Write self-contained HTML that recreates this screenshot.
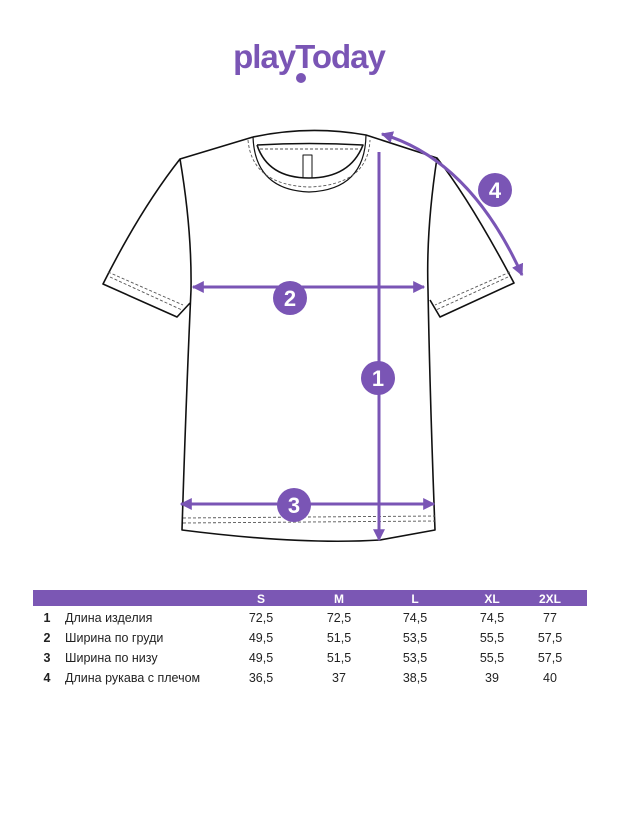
<!DOCTYPE html>
<html><head><meta charset="utf-8"><style>
body{margin:0;background:#fff;width:618px;height:824px;overflow:hidden;font-family:"Liberation Sans",sans-serif}
</style></head><body>
<svg width="618" height="824" viewBox="0 0 618 824" xmlns="http://www.w3.org/2000/svg" style="position:absolute;left:0;top:0">
<defs>
<marker id="ah" viewBox="0 0 10 10" refX="9" refY="5" markerWidth="4" markerHeight="4" orient="auto-start-reverse"><path d="M0,0 L10,5 L0,10 z" fill="#7a55b5"/></marker>
</defs>
<text x="309" y="68" text-anchor="middle" font-family="Liberation Sans" font-weight="bold" font-size="33" fill="#7a55b5" letter-spacing="-1">playToday</text>
<circle cx="301" cy="78" r="5" fill="#7a55b5"/>
<g fill="none" stroke="#111" stroke-width="1.6" stroke-linejoin="round">
<path d="M253,137 Q309,125 366,135 L437,158 Q470,200 514,283 L440,317 L430,300"/>
<path d="M253,137 L180,159 Q140,210 103,284 L177,317 L190,303"/>
<path d="M180,159 Q192,230 191,290 Q186,400 182,530 Q300,545 380,540 L435,530 Q430,400 428,290 Q426,230 437,158"/>
<path d="M257,145 Q309,142 363,145 Q350,178 309,178 Q268,178 257,145"/>
<path d="M253,137 Q255,190 309,192 Q365,190 366,135" stroke-width="1.2"/>
<rect x="303" y="155" width="9" height="23" stroke-width="1"/>
</g>
<g fill="none" stroke="#555" stroke-width="0.9" stroke-dasharray="3,2">
<path d="M248,140 Q252,185 309,187 Q368,185 370,140"/>
<path d="M260,149 L360,149"/>
<path d="M108,272 L183,305"/><path d="M110,277 L182,310"/>
<path d="M510,272 L435,305"/><path d="M508,277 L436,310"/>
<path d="M183,518 L435,516"/><path d="M183,523 L435,521"/>
</g>
<g stroke="#7a55b5" stroke-width="3" fill="none">
<line x1="379" y1="152" x2="379" y2="540" marker-end="url(#ah)"/>
<line x1="193" y1="287" x2="424" y2="287" marker-start="url(#ah)" marker-end="url(#ah)"/>
<line x1="181" y1="504" x2="434" y2="504" marker-start="url(#ah)" marker-end="url(#ah)"/>
<path d="M382,134 Q470,160 522,275" marker-start="url(#ah)" marker-end="url(#ah)"/>
</g>
<g fill="#7a55b5">
<circle cx="378" cy="378" r="17"/><circle cx="290" cy="298" r="17"/>
<circle cx="294" cy="505" r="17"/><circle cx="495" cy="190" r="17"/>
</g>
<g fill="#fff" font-weight="bold" font-size="22" text-anchor="middle">
<text x="378" y="386">1</text><text x="290" y="306">2</text><text x="294" y="513">3</text><text x="495" y="198">4</text>
</g>
<rect x="33" y="590" width="554" height="16" fill="#7b57b4"/>
<g fill="#fff" font-weight="bold" font-size="12" text-anchor="middle">
<text x="261" y="603">S</text><text x="339" y="603">M</text><text x="415" y="603">L</text><text x="492" y="603">XL</text><text x="550" y="603">2XL</text>
</g>
<g font-size="12.5" fill="#222">
<g font-weight="bold" text-anchor="middle"><text x="47" y="622">1</text><text x="47" y="642">2</text><text x="47" y="662">3</text><text x="47" y="682">4</text></g>
<text x="65" y="622">Длина изделия</text><text x="65" y="642">Ширина по груди</text><text x="65" y="662">Ширина по низу</text><text x="65" y="682">Длина рукава с плечом</text>
<g text-anchor="middle">
<text x="261" y="622">72,5</text><text x="339" y="622">72,5</text><text x="415" y="622">74,5</text><text x="492" y="622">74,5</text><text x="550" y="622">77</text>
<text x="261" y="642">49,5</text><text x="339" y="642">51,5</text><text x="415" y="642">53,5</text><text x="492" y="642">55,5</text><text x="550" y="642">57,5</text>
<text x="261" y="662">49,5</text><text x="339" y="662">51,5</text><text x="415" y="662">53,5</text><text x="492" y="662">55,5</text><text x="550" y="662">57,5</text>
<text x="261" y="682">36,5</text><text x="339" y="682">37</text><text x="415" y="682">38,5</text><text x="492" y="682">39</text><text x="550" y="682">40</text>
</g></g>
</svg>
</body></html>
